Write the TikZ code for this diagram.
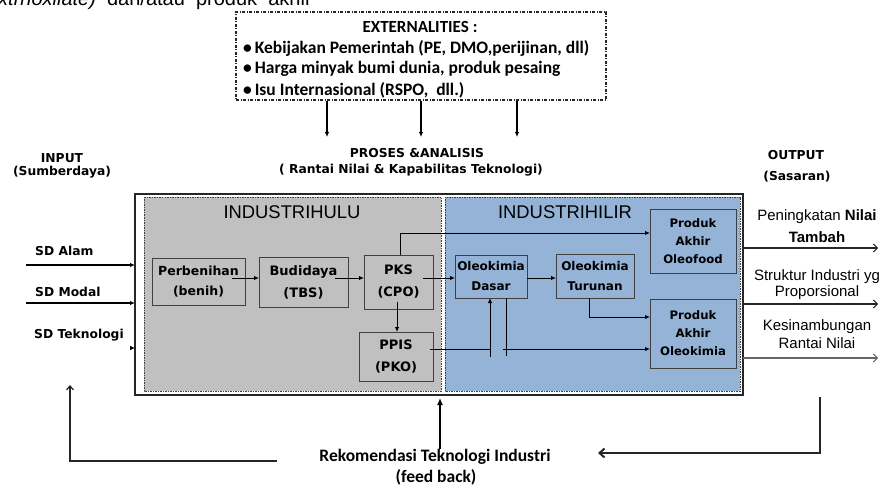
\documentclass[tikz,border=0pt]{standalone}
\usepackage{fontspec}
\setmainfont{DejaVu Sans}
\newfontfamily\dvfont{DejaVu Sans}
\newfontfamily\carfont{Carlito}
\newfontfamily\libfont{Liberation Sans}
\usetikzlibrary{arrows.meta}
\definecolor{hulu}{HTML}{C0C0C0}
\definecolor{hilir}{HTML}{95B3D7}
\definecolor{bord}{HTML}{404040}
\definecolor{dk}{HTML}{262626}
\tikzset{
  stepbox/.style={draw=bord, line width=0.9pt, inner sep=0pt, outer sep=0pt, align=center,
    font=\dvfont\bfseries\fontsize{12.5}{20}\selectfont},
  arr/.style={line width=0.9pt, draw=black, -{Latex[length=5pt,width=4.5pt]}},
  lbl/.style={font=\dvfont\bfseries\fontsize{12.3}{15}\selectfont, inner sep=0pt},
  extl/.style={font=\carfont\bfseries\fontsize{17.5}{19}\selectfont, inner sep=0pt, anchor=west},
  outl/.style={font=\libfont\fontsize{15}{16}\selectfont, inner sep=0pt},
  oarr/.style={line width=1.4pt, draw=dk, -{Straight Barb[length=4pt,width=8pt,line width=1pt]}},
  fbline/.style={line width=1.6pt, draw=dk},
  region/.style={draw=bord, line width=0.8pt, dash pattern=on 1.5pt off 1pt},
}
\begin{document}
\begin{tikzpicture}[x=1pt,y=-1pt]
\useasboundingbox (0,0) rectangle (882,486);
\fill[white] (0,0) rectangle (882,486);

% clipped line of text at top
\node[anchor=base west, inner sep=0pt, font=\libfont\fontsize{20}{24}\selectfont] (toptxt) at (-2,6)
  {\textit{xtrhoxilate)}\ \ dan/atau\ \ produk\ \ akhir};

% externalities
\node[draw=dk, line width=1.1pt, dash pattern=on 3pt off 1.5pt on 1pt off 1.5pt,
  minimum width=370pt, minimum height=88pt, inner sep=0pt] (ext) at (421,56) {};
\node[font=\carfont\bfseries\fontsize{17}{19}\selectfont, inner sep=0pt] (exth) at (420,27) {EXTERNALITIES :};
\node[extl] (ex1) at (243,48) {\textbullet\,Kebijakan Pemerintah (PE, DMO,perijinan, dll)};
\node[extl] (ex2) at (243,69) {\textbullet\,Harga minyak bumi dunia, produk pesaing};
\node[extl] (ex3) at (243,90) {\textbullet\,Isu Internasional (RSPO,\ \ dll.)};
\coordinate (e1) at (327,137);
\coordinate (e2) at (421,137);
\coordinate (e3) at (517,137);
\draw[arr, line width=1.1pt] (e1 |- ext.south) -- (e1);
\draw[arr, line width=1.1pt] (e2 |- ext.south) -- (e2);
\draw[arr, line width=1.1pt] (e3 |- ext.south) -- (e3);

% titles
\node[lbl] (proses) at (417,153) {PROSES \&ANALISIS};
\node[lbl] (rantai) at (411,170) {( Rantai Nilai \& Kapabilitas Teknologi)};
\node[lbl] (input) at (62,158) {INPUT};
\node[lbl] (sumber) at (62,172) {(Sumberdaya)};
\node[lbl] (output) at (796,155) {OUTPUT};
\node[lbl] (sasaran) at (797,177) {(Sasaran)};

% outer frame and regions
\node[draw=dk, line width=2pt, minimum width=608pt, minimum height=201pt, inner sep=0pt, outer sep=0pt] (outer) at (439,294.5) {};
\fill[hulu] (144,197) rectangle (441,391);
\draw[region] (144,197) rectangle (441,391);
\fill[hilir] (445,197) rectangle (740,391);
\draw[region] (445,197) rectangle (740,391);
\node[font=\libfont\fontsize{18.4}{20}\selectfont, inner sep=0pt] (hulu) at (292,212) {INDUSTRIHULU};
\node[font=\libfont\fontsize{18.4}{20}\selectfont, inner sep=0pt] (hilir) at (565,212) {INDUSTRIHILIR};

% process boxes
\node[stepbox, fill=hulu, minimum width=93pt, minimum height=47pt] (perb) at (198.5,281.5) {Perbenihan\\(benih)};
\node[stepbox, fill=hulu, minimum width=89pt, minimum height=50pt, font=\dvfont\bfseries\fontsize{13}{22}\selectfont] (budi) at (303.5,282) {Budidaya\\(TBS)};
\node[stepbox, fill=hulu, minimum width=69pt, minimum height=54pt, font=\dvfont\bfseries\fontsize{13}{22}\selectfont] (pks) at (398.5,282) {PKS\\(CPO)};
\node[stepbox, fill=hulu, minimum width=74pt, minimum height=49pt, font=\dvfont\bfseries\fontsize{13}{22}\selectfont] (ppis) at (396,356.5) {PPIS\\(PKO)};
\node[stepbox, fill=hilir, minimum width=72pt, minimum height=43pt, font=\dvfont\bfseries\fontsize{12}{20}\selectfont] (dasar) at (491,276.5) {Oleokimia\\Dasar};
\node[stepbox, fill=hilir, minimum width=78pt, minimum height=44pt, font=\dvfont\bfseries\fontsize{12}{20}\selectfont] (turunan) at (595,276) {Oleokimia\\Turunan};
\node[stepbox, fill=hilir, minimum width=86pt, minimum height=64pt, font=\dvfont\bfseries\fontsize{11.7}{18}\selectfont] (oleofood) at (693,241) {Produk\\Akhir\\Oleofood};
\node[stepbox, fill=hilir, minimum width=86pt, minimum height=69pt, font=\dvfont\bfseries\fontsize{11.7}{18}\selectfont] (oleokimia) at (693,333.5) {Produk\\Akhir\\Oleokimia};

% internal connectors
\draw[arr] ([xshift=-13pt,yshift=3.5pt]perb.east) -- ([yshift=4pt]budi.west);
\draw[arr] ([xshift=-13pt,yshift=4pt]budi.east) -- ([yshift=4pt]pks.west);
\draw[arr] ([xshift=-10pt,yshift=4pt]pks.east) -- ([yshift=-1.5pt]dasar.west);
\draw[arr] ([xshift=1.5pt]pks.north) |- ([yshift=8pt]oleofood.west);
\draw[arr] ([xshift=-1.5pt,yshift=7pt]pks.south) -- ([xshift=-1.5pt]pks.south |- ppis.north);
\draw[arr] ([yshift=-1.5pt]dasar.east) -- ([yshift=-2pt]turunan.west);
\draw[arr] ([xshift=-6pt,yshift=0pt]turunan.south) |- ([yshift=16.5pt]oleokimia.west);
\coordinate (j1) at (490,349);
\coordinate (j1b) at (490,357);
\coordinate (j2) at (506,356);
\coordinate (j3) at (503,349);
\draw[line width=0.9pt] ([xshift=-3pt,yshift=7.5pt]ppis.east) -- (j1);
\draw[arr] (j1b) -- (j1b |- dasar.south);
\draw[line width=0.9pt] (j2) -- (j2 |- dasar.south);
\draw[arr] (j3) -- (j3 -| oleokimia.west);

% inputs
\node[lbl, anchor=west] (sdalam) at (35,251) {SD Alam};
\node[lbl, anchor=west] (sdmodal) at (35,292) {SD Modal};
\node[lbl, anchor=west] (sdtek) at (34,335) {SD Teknologi};
\coordinate (in1) at (26,265);
\coordinate (in2) at (26,303);
\coordinate (in3) at (130,348);
\draw[arr, line width=1.3pt] (in1) -- (in1 -| outer.west);
\draw[arr, line width=1.3pt] (in2) -- (in2 -| outer.west);
\draw[arr, line width=0.6pt] (in3) -- (in3 -| outer.west);

% outputs
\node[outl] (o1a) at (817,217) {Peningkatan \textbf{Nilai}};
\node[outl] (o1b) at (817,237) {\textbf{Tambah}};
\node[outl] (o2a) at (817,277) {Struktur Industri yg};
\node[outl] (o2b) at (817,293) {Proporsional};
\node[outl] (o3a) at (817,327) {Kesinambungan};
\node[outl] (o3b) at (817,343) {Rantai Nilai};
\coordinate (o1) at (878,248);
\coordinate (o2) at (878,304);
\coordinate (o3) at (878,358);
\draw[oarr] (o1 -| outer.east) -- (o1);
\draw[oarr] (o2 -| outer.east) -- (o2);
\draw[oarr, draw=gray!80!black] (o3 -| outer.east) -- (o3);

% feedback
\node[font=\carfont\bfseries\fontsize{17.5}{20}\selectfont, inner sep=0pt] (fbt) at (435,457) {Rekomendasi Teknologi Industri};
\node[font=\carfont\bfseries\fontsize{17.5}{20}\selectfont, inner sep=0pt] (fbt2) at (436,477) {(feed back)};
\coordinate (fc) at (440,398);
\draw[line width=2.2pt, -{Latex[length=7pt,width=6pt]}] (fc |- fbt.north) -- (fc);
\coordinate (fl1) at (277,461);
\coordinate (fl2) at (70,385);
\draw[fbline, -{Straight Barb[length=4pt,width=7pt,line width=1.2pt]}] (fl1) -| (fl2);
\coordinate (fr1) at (820,397);
\coordinate (fr2) at (598,453);
\draw[fbline, -{Straight Barb[length=5pt,width=9pt,line width=2pt]}] (fr1) |- (fr2);
\end{tikzpicture}
\end{document}
